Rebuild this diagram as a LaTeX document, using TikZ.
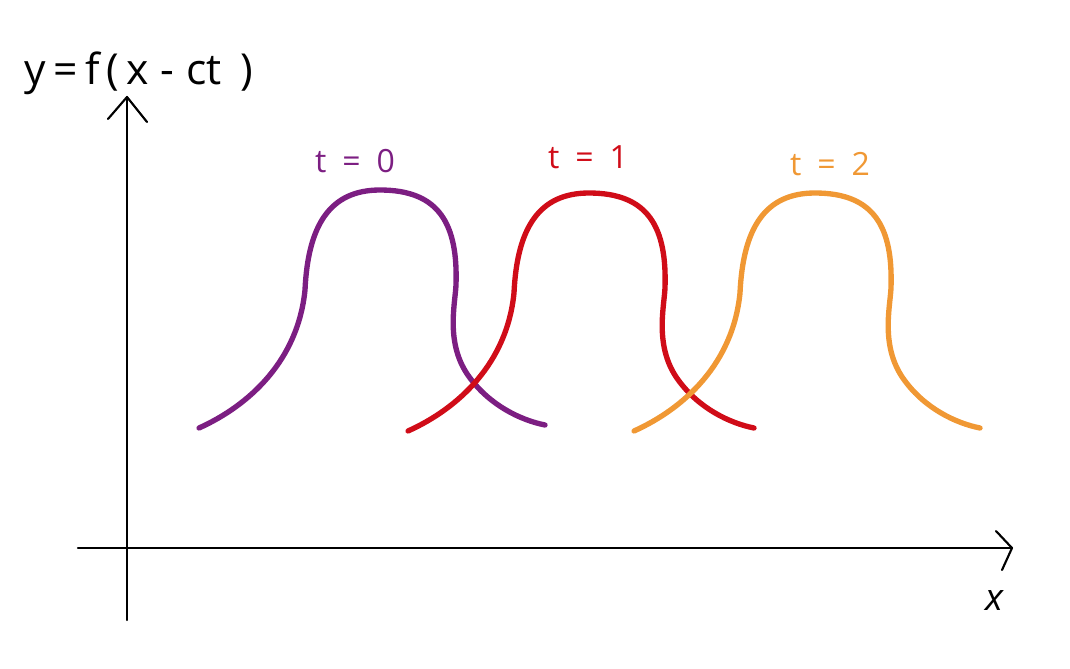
\documentclass[tikz,border=0pt]{standalone}
\usepackage{fontspec}
\setmainfont{Open Sans}
\begin{document}
\begin{tikzpicture}[x=0.75pt,y=-0.75pt,
  axis/.style={line width=1.6pt,black,line cap=round,line join=round},
  wave/.style={line width=4pt,line cap=round},
  lbl/.style={font=\fontsize{24}{28}\selectfont,inner sep=0pt}]
\definecolor{cpurple}{RGB}{124,30,130}
\definecolor{cred}{RGB}{208,12,24}
\definecolor{corange}{RGB}{240,152,52}
\useasboundingbox (0,0) rectangle (1070,668);
% axes
\coordinate (ybot) at (127,620);
\coordinate (ytop) at (127,97);
\coordinate (xl) at (78,548);
\coordinate (xr) at (1012,548);
\draw[axis] (ybot) -- (ytop);
\draw[axis] (108,119) -- (ytop) -- (147,122);
\draw[axis] (xl) -- (xr);
\draw[axis] (996,531) -- (xr) -- (1002,570);
% labels
\node[font=\fontsize{32}{36}\selectfont,inner sep=0pt] (title) at (139,73) {y\,=\,f\,(\,x\;-\;ct\;\,)};
\node[font=\fontsize{28}{32}\selectfont,inner sep=0pt] (xlab) at (995,600) {\textit{x}};
\node[lbl,text=cpurple] (l0) at (355,161) {t\enspace=\enspace0};
\node[lbl,text=cred] (l1) at (588,157) {t\enspace=\enspace1};
\node[lbl,text=corange] (l2) at (830,164) {t\enspace=\enspace2};
% pulse shape
\newcommand{\pulse}[3]{%
\begin{scope}[shift={(#1,#2)}]
\draw[wave,#3] (199,428) .. controls (250,405) and (298,360) .. (305,290)
  .. controls (308,225) and (330,190) .. (380,190)
  .. controls (440,190) and (458,225) .. (456,285)
  .. controls (455,305) and (445,345) .. (470,378)
  .. controls (490,405) and (520,420) .. (545,425);
\end{scope}}
\pulse{0}{0}{cpurple}
\pulse{209}{3}{cred}
\pulse{435}{3}{corange}
\end{tikzpicture}
\end{document}
